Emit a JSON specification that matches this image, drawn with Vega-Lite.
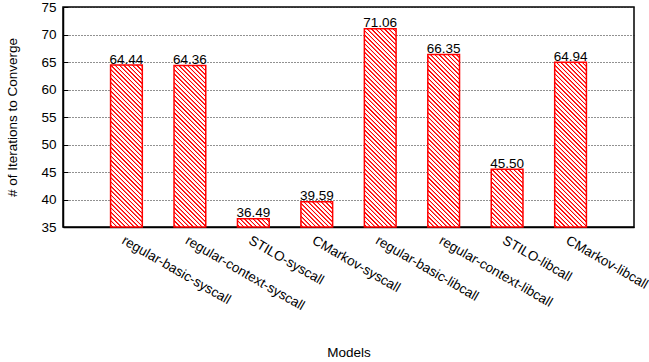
{
  "$schema": "https://vega.github.io/schema/vega-lite/v6.json",
  "width": 571,
  "height": 220,
  "autosize": {"type": "none"},
  "padding": {"left": 63, "top": 7, "right": 15, "bottom": 135},
  "background": "#ffffff",
  "params": [
    {"name": "hs", "value": [
      {"offset":0,"color":"#fff"},
      {"offset":0.0045,"color":"#fff"},{"offset":0.007,"color":"red"},{"offset":0.011,"color":"red"},{"offset":0.0135,"color":"#fff"},
      {"offset":0.0225,"color":"#fff"},{"offset":0.025,"color":"red"},{"offset":0.029,"color":"red"},{"offset":0.0315,"color":"#fff"},
      {"offset":0.0405,"color":"#fff"},{"offset":0.043,"color":"red"},{"offset":0.047,"color":"red"},{"offset":0.0495,"color":"#fff"},
      {"offset":0.0585,"color":"#fff"},{"offset":0.061,"color":"red"},{"offset":0.065,"color":"red"},{"offset":0.0675,"color":"#fff"},
      {"offset":0.0765,"color":"#fff"},{"offset":0.079,"color":"red"},{"offset":0.083,"color":"red"},{"offset":0.0855,"color":"#fff"},
      {"offset":0.0945,"color":"#fff"},{"offset":0.097,"color":"red"},{"offset":0.101,"color":"red"},{"offset":0.1035,"color":"#fff"},
      {"offset":0.1125,"color":"#fff"},{"offset":0.115,"color":"red"},{"offset":0.119,"color":"red"},{"offset":0.1215,"color":"#fff"},
      {"offset":0.1305,"color":"#fff"},{"offset":0.133,"color":"red"},{"offset":0.137,"color":"red"},{"offset":0.1395,"color":"#fff"},
      {"offset":0.1485,"color":"#fff"},{"offset":0.151,"color":"red"},{"offset":0.155,"color":"red"},{"offset":0.1575,"color":"#fff"},
      {"offset":0.1665,"color":"#fff"},{"offset":0.169,"color":"red"},{"offset":0.173,"color":"red"},{"offset":0.1755,"color":"#fff"},
      {"offset":0.1845,"color":"#fff"},{"offset":0.187,"color":"red"},{"offset":0.191,"color":"red"},{"offset":0.1935,"color":"#fff"},
      {"offset":0.2025,"color":"#fff"},{"offset":0.205,"color":"red"},{"offset":0.209,"color":"red"},{"offset":0.2115,"color":"#fff"},
      {"offset":0.2205,"color":"#fff"},{"offset":0.223,"color":"red"},{"offset":0.227,"color":"red"},{"offset":0.2295,"color":"#fff"},
      {"offset":0.2385,"color":"#fff"},{"offset":0.241,"color":"red"},{"offset":0.245,"color":"red"},{"offset":0.2475,"color":"#fff"},
      {"offset":0.2565,"color":"#fff"},{"offset":0.259,"color":"red"},{"offset":0.263,"color":"red"},{"offset":0.2655,"color":"#fff"},
      {"offset":0.2745,"color":"#fff"},{"offset":0.277,"color":"red"},{"offset":0.281,"color":"red"},{"offset":0.2835,"color":"#fff"},
      {"offset":0.2925,"color":"#fff"},{"offset":0.295,"color":"red"},{"offset":0.299,"color":"red"},{"offset":0.3015,"color":"#fff"},
      {"offset":0.3105,"color":"#fff"},{"offset":0.313,"color":"red"},{"offset":0.317,"color":"red"},{"offset":0.3195,"color":"#fff"},
      {"offset":0.3285,"color":"#fff"},{"offset":0.331,"color":"red"},{"offset":0.335,"color":"red"},{"offset":0.3375,"color":"#fff"},
      {"offset":0.3465,"color":"#fff"},{"offset":0.349,"color":"red"},{"offset":0.353,"color":"red"},{"offset":0.3555,"color":"#fff"},
      {"offset":0.3645,"color":"#fff"},{"offset":0.367,"color":"red"},{"offset":0.371,"color":"red"},{"offset":0.3735,"color":"#fff"},
      {"offset":0.3825,"color":"#fff"},{"offset":0.385,"color":"red"},{"offset":0.389,"color":"red"},{"offset":0.3915,"color":"#fff"},
      {"offset":0.4005,"color":"#fff"},{"offset":0.403,"color":"red"},{"offset":0.407,"color":"red"},{"offset":0.4095,"color":"#fff"},
      {"offset":0.4185,"color":"#fff"},{"offset":0.421,"color":"red"},{"offset":0.425,"color":"red"},{"offset":0.4275,"color":"#fff"},
      {"offset":0.4365,"color":"#fff"},{"offset":0.439,"color":"red"},{"offset":0.443,"color":"red"},{"offset":0.4455,"color":"#fff"},
      {"offset":0.4545,"color":"#fff"},{"offset":0.457,"color":"red"},{"offset":0.461,"color":"red"},{"offset":0.4635,"color":"#fff"},
      {"offset":0.4725,"color":"#fff"},{"offset":0.475,"color":"red"},{"offset":0.479,"color":"red"},{"offset":0.4815,"color":"#fff"},
      {"offset":0.4905,"color":"#fff"},{"offset":0.493,"color":"red"},{"offset":0.497,"color":"red"},{"offset":0.4995,"color":"#fff"},
      {"offset":0.5085,"color":"#fff"},{"offset":0.511,"color":"red"},{"offset":0.515,"color":"red"},{"offset":0.5175,"color":"#fff"},
      {"offset":0.5265,"color":"#fff"},{"offset":0.529,"color":"red"},{"offset":0.533,"color":"red"},{"offset":0.5355,"color":"#fff"},
      {"offset":0.5445,"color":"#fff"},{"offset":0.547,"color":"red"},{"offset":0.551,"color":"red"},{"offset":0.5535,"color":"#fff"},
      {"offset":0.5625,"color":"#fff"},{"offset":0.565,"color":"red"},{"offset":0.569,"color":"red"},{"offset":0.5715,"color":"#fff"},
      {"offset":0.5805,"color":"#fff"},{"offset":0.583,"color":"red"},{"offset":0.587,"color":"red"},{"offset":0.5895,"color":"#fff"},
      {"offset":0.5985,"color":"#fff"},{"offset":0.601,"color":"red"},{"offset":0.605,"color":"red"},{"offset":0.6075,"color":"#fff"},
      {"offset":0.6165,"color":"#fff"},{"offset":0.619,"color":"red"},{"offset":0.623,"color":"red"},{"offset":0.6255,"color":"#fff"},
      {"offset":0.6345,"color":"#fff"},{"offset":0.637,"color":"red"},{"offset":0.641,"color":"red"},{"offset":0.6435,"color":"#fff"},
      {"offset":0.6525,"color":"#fff"},{"offset":0.655,"color":"red"},{"offset":0.659,"color":"red"},{"offset":0.6615,"color":"#fff"},
      {"offset":0.6705,"color":"#fff"},{"offset":0.673,"color":"red"},{"offset":0.677,"color":"red"},{"offset":0.6795,"color":"#fff"},
      {"offset":0.6885,"color":"#fff"},{"offset":0.691,"color":"red"},{"offset":0.695,"color":"red"},{"offset":0.6975,"color":"#fff"},
      {"offset":0.7065,"color":"#fff"},{"offset":0.709,"color":"red"},{"offset":0.713,"color":"red"},{"offset":0.7155,"color":"#fff"},
      {"offset":0.7245,"color":"#fff"},{"offset":0.727,"color":"red"},{"offset":0.731,"color":"red"},{"offset":0.7335,"color":"#fff"},
      {"offset":0.7425,"color":"#fff"},{"offset":0.745,"color":"red"},{"offset":0.749,"color":"red"},{"offset":0.7515,"color":"#fff"},
      {"offset":0.7605,"color":"#fff"},{"offset":0.763,"color":"red"},{"offset":0.767,"color":"red"},{"offset":0.7695,"color":"#fff"},
      {"offset":0.7785,"color":"#fff"},{"offset":0.781,"color":"red"},{"offset":0.785,"color":"red"},{"offset":0.7875,"color":"#fff"},
      {"offset":0.7965,"color":"#fff"},{"offset":0.799,"color":"red"},{"offset":0.803,"color":"red"},{"offset":0.8055,"color":"#fff"},
      {"offset":0.8145,"color":"#fff"},{"offset":0.817,"color":"red"},{"offset":0.821,"color":"red"},{"offset":0.8235,"color":"#fff"},
      {"offset":0.8325,"color":"#fff"},{"offset":0.835,"color":"red"},{"offset":0.839,"color":"red"},{"offset":0.8415,"color":"#fff"},
      {"offset":0.8505,"color":"#fff"},{"offset":0.853,"color":"red"},{"offset":0.857,"color":"red"},{"offset":0.8595,"color":"#fff"},
      {"offset":0.8685,"color":"#fff"},{"offset":0.871,"color":"red"},{"offset":0.875,"color":"red"},{"offset":0.8775,"color":"#fff"},
      {"offset":0.8865,"color":"#fff"},{"offset":0.889,"color":"red"},{"offset":0.893,"color":"red"},{"offset":0.8955,"color":"#fff"},
      {"offset":0.9045,"color":"#fff"},{"offset":0.907,"color":"red"},{"offset":0.911,"color":"red"},{"offset":0.9135,"color":"#fff"},
      {"offset":0.9225,"color":"#fff"},{"offset":0.925,"color":"red"},{"offset":0.929,"color":"red"},{"offset":0.9315,"color":"#fff"},
      {"offset":0.9405,"color":"#fff"},{"offset":0.943,"color":"red"},{"offset":0.947,"color":"red"},{"offset":0.9495,"color":"#fff"},
      {"offset":0.9585,"color":"#fff"},{"offset":0.961,"color":"red"},{"offset":0.965,"color":"red"},{"offset":0.9675,"color":"#fff"},
      {"offset":0.9765,"color":"#fff"},{"offset":0.979,"color":"red"},{"offset":0.983,"color":"red"},{"offset":0.9855,"color":"#fff"},
      {"offset":1,"color":"#fff"}
    ]}
  ],
  "data": {
    "values": [
      {"model": "regular-basic-syscall", "value": 64.44},
      {"model": "regular-context-syscall", "value": 64.36},
      {"model": "STILO-syscall", "value": 36.49},
      {"model": "CMarkov-syscall", "value": 39.59},
      {"model": "regular-basic-libcall", "value": 71.06},
      {"model": "regular-context-libcall", "value": 66.35},
      {"model": "STILO-libcall", "value": 45.50},
      {"model": "CMarkov-libcall", "value": 64.94}
    ]
  },
  "encoding": {
    "x": {
      "field": "model",
      "type": "nominal",
      "sort": null,
      "scale": {"paddingInner": 0.5, "paddingOuter": 0.75},
      "axis": {
        "title": "Models",
        "labelAngle": 30,
        "labelAlign": "left",
        "labelBaseline": "top",
        "labelPadding": 6,
        "labelLimit": 0,
        "labelOverlap": false,
        "ticks": false,
        "grid": false,
        "titleY": 129,
        "titleBaseline": "alphabetic",
        "titleFontSize": 13.5
      }
    },
    "y": {
      "field": "value",
      "type": "quantitative",
      "scale": {"domain": [35, 75], "zero": false, "nice": false},
      "axis": {
        "title": "# of Iterations to Converge",
        "values": [35, 40, 45, 50, 55, 60, 65, 70, 75],
        "tickCount": 20,
        "labelOverlap": false,
        "grid": true,
        "gridDash": [1, 2],
        "gridColor": "#222222",
        "gridWidth": 1,
        "ticks": true,
        "tickSize": -5,
        "tickColor": "#000",
        "tickWidth": 1,
        "labelPadding": 12,
        "titleX": -50.5,
        "titleBaseline": "middle",
        "titleFontSize": 13.5
      }
    }
  },
  "layer": [
    {
      "mark": {
        "type": "bar",
        "stroke": "#ff0000",
        "strokeWidth": 1.5,
        "fill": {"expr": "{gradient:'linear',x1:0,y1:1,x2:240*bandwidth('x')/(pow(bandwidth('x'),2)+pow(scale('y',35)-scale('y',datum.value),2)),y2:1-240*(scale('y',35)-scale('y',datum.value))/(pow(bandwidth('x'),2)+pow(scale('y',35)-scale('y',datum.value),2)),stops:hs}"}
      },
      "encoding": {
        "y2": {"datum": 35}
      }
    },
    {
      "mark": {
        "type": "text",
        "baseline": "alphabetic",
        "dy": -1.5,
        "fontSize": 13.5,
        "font": "Liberation Sans",
        "color": "#000000"
      },
      "encoding": {
        "text": {"field": "value", "type": "quantitative", "format": ".2f"}
      }
    }
  ],
  "config": {
    "view": {"stroke": "#000000", "strokeWidth": 1.5},
    "axis": {
      "domainColor": "#000000",
      "domainWidth": 1.5,
      "labelFont": "Liberation Sans",
      "titleFont": "Liberation Sans",
      "labelFontSize": 13.5,
      "labelColor": "#000000",
      "titleColor": "#000000",
      "titleFontWeight": "normal"
    }
  }
}
